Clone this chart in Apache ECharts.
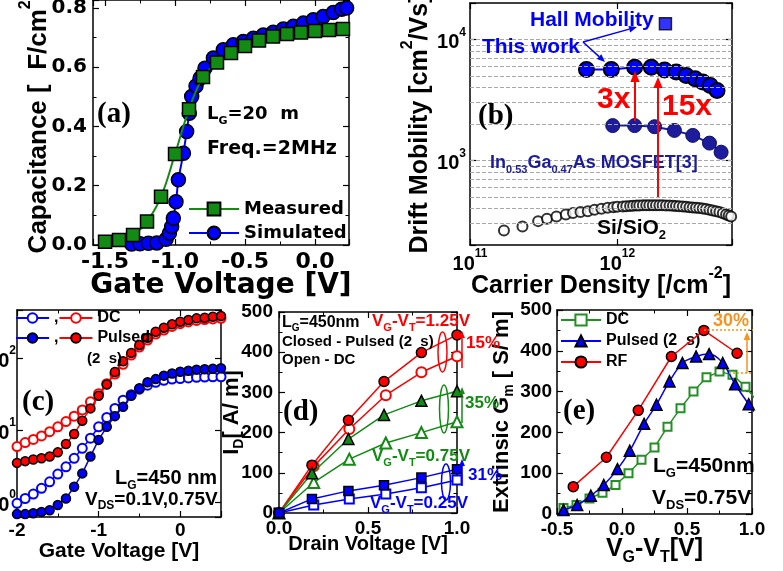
<!DOCTYPE html>
<html>
<head>
<meta charset="utf-8">
<title>InGaAs channel: C-V, mobility, I-V and Gm</title>
<script src="https://cdn.jsdelivr.net/npm/echarts@6/dist/echarts.min.js"></script>
<style>
  html, body { margin: 0; padding: 0; background: #fff; }
  #chart { width: 783px; height: 571px; }
</style>
</head>
<body>
<div id="chart"></div>
<script>
// ---------- (a) C-V ----------
var cvMeasV = [-1.5, -1.4, -1.3, -1.2, -1.1, -1.0, -0.9, -0.8, -0.7, -0.6, -0.5, -0.4, -0.3, -0.2, -0.1, 0.0, 0.1, 0.2];
var cvMeasured = [0.011, 0.017, 0.034, 0.079, 0.163, 0.307, 0.458, 0.567, 0.616, 0.648, 0.672, 0.69, 0.704, 0.712, 0.717, 0.722, 0.726, 0.729];
var cvSimV = [-1.31, -1.25, -1.19, -1.13, -1.064, -1.04, -1.024, -1.012, -0.993, -0.976, -0.94, -0.917, -0.898, -0.881, -0.85, -0.821, -0.786, -0.726, -0.655, -0.583, -0.512, -0.44, -0.369, -0.298, -0.226, -0.155, -0.083, -0.012, 0.059, 0.131, 0.19, 0.226];
var cvSimulated = [0.003, 0.004, 0.006, 0.007, 0.019, 0.04, 0.062, 0.09, 0.146, 0.22, 0.31, 0.383, 0.445, 0.501, 0.537, 0.563, 0.597, 0.631, 0.659, 0.676, 0.687, 0.698, 0.709, 0.718, 0.729, 0.738, 0.749, 0.76, 0.771, 0.785, 0.796, 0.8];

// ---------- (b) mobility ----------
var hallDensity = [2.12e12];
var hallMobility = [13500];
var thisWorkDensity = [6.17e11, 9.1e11, 1.31e12, 1.70e12, 2.09e12, 2.51e12, 2.93e12, 3.37e12, 3.8e12, 4.27e12, 4.75e12];
var thisWorkMobility = [5650, 5650, 5900, 5900, 5600, 5370, 5040, 4730, 4440, 4170, 3790];
var ingaasDensity = [9.3e11, 1.31e12, 1.79e12, 2.44e12, 3.25e12, 4.22e12, 5.06e12];
var ingaasMobility = [1940, 1940, 1900, 1770, 1610, 1390, 1170];
var siDensity = [1.7e11, 2.27e11, 2.9e11, 3.33e11, 3.86e11, 4.47e11, 5.0e11, 5.62e11, 6.3e11, 7.0e11, 7.8e11, 8.6e11, 9.4e11, 1.0e12, 1.09e12, 1.15e12, 1.22e12, 1.28e12, 1.35e12, 1.41e12, 1.49e12, 1.57e12, 1.65e12, 1.74e12, 1.83e12, 1.93e12, 2.03e12, 2.14e12, 2.26e12, 2.38e12, 2.5e12, 2.63e12, 2.78e12, 2.93e12, 3.09e12, 3.25e12, 3.42e12, 3.6e12, 3.8e12, 4.0e12, 4.22e12, 4.44e12, 4.68e12, 4.93e12, 5.2e12, 5.47e12, 5.7e12, 5.92e12];
var siMobility = [264, 285, 315, 329, 344, 358, 367, 374, 381, 391, 398, 406, 411, 414, 417, 419, 421, 422, 424, 425, 426, 427, 427, 427, 427, 427, 426, 425, 424, 422, 420, 419, 416, 414, 411, 409, 406, 404, 400, 396, 391, 386, 380, 374, 366, 358, 351, 344];
var mobilityGridLines = [300, 400, 500, 600, 700, 800, 900, 1000, 2000, 3000, 4000, 5000, 6000, 7000, 8000, 9000, 10000];

// ---------- (c) Id-Vg ----------
var idGateV = [-2.0, -1.9, -1.8, -1.7, -1.6, -1.5, -1.4, -1.3, -1.2, -1.1, -1.0, -0.9, -0.8, -0.7, -0.6, -0.5, -0.4, -0.3, -0.2, -0.1, 0.0, 0.1, 0.2, 0.3, 0.4, 0.5];
var idDcHigh = [5.9, 6.7, 7.4, 8.3, 9.5, 11.1, 13.1, 15.6, 19, 24.7, 32, 44, 60, 82, 110, 142, 178, 215, 245, 275, 300, 318, 333, 342, 350, 356];
var idPulsedHigh = [3.5, 3.7, 3.9, 4.05, 4.3, 4.9, 6.4, 8.8, 13.5, 20, 30, 43, 64, 90, 118, 152, 191, 232, 264, 294, 320, 337, 356, 363, 375, 383];
var idDcLow = [0.96, 1.12, 1.29, 1.55, 1.91, 2.45, 3.09, 4.05, 5.57, 7.7, 11.1, 15, 20, 26, 31, 37, 42, 46, 49, 51, 52, 53, 54, 54.5, 55, 55];
var idPulsedLow = [0.68, 0.68, 0.70, 0.73, 0.77, 0.91, 1.12, 1.63, 2.5, 4.3, 7.3, 11.1, 15.6, 21, 30, 38, 46, 51, 57, 61, 64.5, 66.5, 69, 70, 71, 72];

// ---------- (d) Id-Vd ----------
var drainVFilled = [0, 0.185, 0.39, 0.59, 0.8, 1.0];
var drainVOpen = [0, 0.195, 0.395, 0.6, 0.8, 1.0];
var idHighPulsed = [0, 119, 231, 327, 399, 443];
var idHighDc = [0, 116, 209, 293, 350, 390];
var idMidPulsed = [0, 99, 184, 244, 279, 303];
var idMidDc = [0, 76, 134, 174, 200, 227];
var idLowPulsed = [0, 35, 55, 69, 88, 109];
var idLowDc = [0, 20, 35, 47, 63, 82];

// ---------- (e) Gm ----------
var gmDcV = [-0.45, -0.35, -0.25, -0.15, -0.05, 0.05, 0.15, 0.25, 0.35, 0.45, 0.55, 0.65, 0.75, 0.85, 0.95, 1.05];
var gmDc = [15, 22, 38, 52, 71, 100, 133, 163, 214, 259, 300, 335, 349, 341, 312, 272];
var gmPulsedV = [-0.45, -0.345, -0.24, -0.14, -0.035, 0.06, 0.17, 0.265, 0.365, 0.465, 0.57, 0.67, 0.775, 0.87, 0.975, 1.075];
var gmPulsed = [10, 22, 45, 71, 110, 155, 221, 268, 325, 370, 386, 392, 370, 318, 269, 228];
var gmRfV = [-0.375, -0.12, 0.125, 0.38, 0.63, 0.885];
var gmRf = [67, 139, 254, 386, 450, 394];

var SANS = 'Liberation Sans';
var WIDE = 'DejaVu Sans';
var SERIF = 'Liberation Serif';
var RED = '#ff0000', BLUE = '#0000ff', GREEN = '#138a13', NAVY = '#1c1c9c', ORANGE = '#f7931e';

function pairs(xs, ys) {
  return xs.map(function (x, i) { return [x, ys[i]]; });
}

function tok(size, family, color, lh, va) {
  return { fontSize: size, lineHeight: lh, verticalAlign: va, fontFamily: family, fontWeight: 'bold', color: color, fill: color };
}
function supRich(size, family, color) {
  color = color || '#000';
  return {
    b: tok(size, family, color, Math.round(size * 1.3), 'bottom'),
    sup: tok(Math.round(size * 0.62), family, color, Math.round(size * 0.62), 'top')
  };
}
function subRich(size, family, color) {
  color = color || '#000';
  return {
    b: tok(size, family, color, Math.round(size * 1.15), 'top'),
    sub: tok(Math.round(size * 0.62), family, color, Math.round(size * 0.62), 'bottom')
  };
}

function powLabel(v) {
  var e = Math.log10(v);
  if (Math.abs(e - Math.round(e)) > 1e-6) return '';
  return '{b|10}{sup|' + Math.round(e) + '}';
}

// main axis + a mirrored one (ticks only) so every panel is boxed
function axisPair(kind, gridIndex, o) {
  var sides = kind === 'x' ? ['bottom', 'top'] : ['left', 'right'];
  return sides.map(function (pos, k) {
    var isMain = k === 0;
    return {
      type: o.type || 'value',
      gridIndex: gridIndex,
      position: pos,
      min: o.min, max: o.max, interval: o.interval, splitNumber: o.splitNumber,
      logBase: 10,
      name: isMain ? o.name : '',
      nameLocation: 'middle',
      nameGap: o.nameGap,
      nameMoveOverlap: false,
      nameTextStyle: o.nameStyle,
      axisLine: { show: true, onZero: false, lineStyle: { color: '#000', width: 1.5 } },
      axisTick: { show: true, inside: true, length: 6, lineStyle: { color: '#000', width: 1.2 } },
      minorTick: { show: !!o.minor, splitNumber: o.minor || 2, length: 3.5, lineStyle: { color: '#000', width: 1 } },
      splitLine: { show: false },
      axisLabel: isMain ? o.label : { show: false }
    };
  });
}

function tickLabel(size, family, margin, extra) {
  var l = { show: true, margin: margin, fontSize: size, fontFamily: family, fontWeight: 'bold', color: '#000' };
  for (var k in extra) l[k] = extra[k];
  return l;
}
function fixed1(v) { return v.toFixed(1); }

function txt(x, y, text, size, color, family, rich) {
  return {
    type: 'text', x: x, y: y, z: 100,
    style: {
      text: text, fill: color || '#000', fontSize: size, fontWeight: 'bold', fontFamily: family || SANS,
      align: 'left', verticalAlign: 'middle', textAlign: 'left', textVerticalAlign: 'middle',
      rich: rich
    }
  };
}
function arrow(x1, y1, x2, y2, color, width, head) {
  var a = Math.atan2(y2 - y1, x2 - x1), hw = head * 0.42;
  var bx = x2 - head * Math.cos(a), by = y2 - head * Math.sin(a);
  var nx = -Math.sin(a), ny = Math.cos(a);
  return [
    { type: 'line', z: 100, shape: { x1: x1, y1: y1, x2: bx, y2: by }, style: { stroke: color, lineWidth: width } },
    { type: 'polygon', z: 100, shape: { points: [[x2, y2], [bx + nx * hw, by + ny * hw], [bx - nx * hw, by - ny * hw]] }, style: { fill: color } }
  ];
}
function ellipse(cx, cy, rx, ry, color) {
  return { type: 'ellipse', z: 100, shape: { cx: cx, cy: cy, rx: rx, ry: ry }, style: { fill: 'none', stroke: color, lineWidth: 1.5 } };
}

var xAxes = [].concat(
  axisPair('x', 0, { min: -1.586, max: 0.243, splitNumber: 4, minor: 2, name: 'Gate Voltage [V]', nameGap: 27,
    nameStyle: { fontSize: 28, fontFamily: WIDE, fontWeight: 'bold', color: '#000' },
    label: tickLabel(22, WIDE, 6, { formatter: fixed1, showMinLabel: false, showMaxLabel: false }) }),
  axisPair('x', 1, { type: 'log', min: 1e11, max: 6e12, name: '{b|Carrier Density [/cm}{sup|-2}{b|]}', nameGap: 21,
    nameStyle: { rich: supRich(25, SANS) },
    label: tickLabel(20, SANS, 3, { formatter: powLabel, rich: supRich(20, SANS) }) }),
  axisPair('x', 2, { min: -2, max: 0.5, interval: 1, minor: 2, name: 'Gate Voltage [V]', nameGap: 24,
    nameStyle: { fontSize: 21, fontFamily: SANS, fontWeight: 'bold', color: '#000' },
    label: tickLabel(19, SANS, 4, { showMaxLabel: false }) }),
  axisPair('x', 3, { min: 0, max: 1, interval: 0.5, minor: 2, name: 'Drain Voltage [V]', nameGap: 21,
    nameStyle: { fontSize: 20, fontFamily: SANS, fontWeight: 'bold', color: '#000' },
    label: tickLabel(19, SANS, 6, { formatter: fixed1 }) }),
  axisPair('x', 4, { min: -0.5, max: 1.0, interval: 0.5, minor: 2, name: '{b|V}{sub|G}{b|-V}{sub|T}{b|[V]}', nameGap: 23,
    nameStyle: { rich: subRich(25, SANS) },
    label: tickLabel(19, SANS, 6, { formatter: fixed1 }) })
);

var yAxes = [].concat(
  axisPair('y', 0, { min: 0, max: 0.827, interval: 0.2, minor: 2, name: '{b|Capacitance [  F/cm}{sup|2}{b|]}', nameGap: 41,
    nameStyle: { rich: supRich(26, SANS) },
    label: tickLabel(20, WIDE, 6, { formatter: fixed1, showMaxLabel: false }) }),
  axisPair('y', 1, { type: 'log', min: 200, max: 20000, name: '{b|Drift Mobility [cm}{sup|2}{b|/Vs]}', nameGap: 37,
    nameStyle: { rich: supRich(25, SANS) },
    label: tickLabel(20, SANS, 4, { formatter: powLabel, rich: supRich(20, SANS) }) }),
  axisPair('y', 2, { type: 'log', min: 0.62, max: 465, name: '',
    label: tickLabel(20, SANS, 1, { formatter: powLabel, rich: supRich(20, SANS) }) }),
  axisPair('y', 3, { min: 0, max: 500, interval: 100, minor: 2, name: '{b|I}{sub|D}{b|[ A/ m]}', nameGap: 33,
    nameStyle: { rich: subRich(22, SANS) },
    label: tickLabel(19, SANS, 6, {}) }),
  axisPair('y', 4, { min: 0, max: 500, interval: 100, minor: 2, name: '{b|Extrinsic G}{sub|m}{b| [ S/ m]}', nameGap: 41,
    nameStyle: { rich: subRich(22, SANS) },
    label: tickLabel(19, SANS, 5, {}) })
);

function lineSeries(name, g, data, o) {
  var filled = o.symbol.indexOf('empty') !== 0;
  var item = { color: o.color, borderWidth: o.borderWidth || 1.5 };
  if (filled) item.borderColor = o.border || '#000';
  return {
    name: name, type: o.type || 'line', xAxisIndex: 2 * g, yAxisIndex: 2 * g,
    data: data, symbol: o.symbol, symbolSize: o.size, showSymbol: true,
    smooth: o.smooth || false, z: o.z || 2, clip: true,
    lineStyle: { color: o.color, width: o.width || 1.5 },
    itemStyle: item,
    markLine: o.markLine
  };
}

var series = [
  // (a)
  lineSeries('Simulated', 0, pairs(cvSimV, cvSimulated), { symbol: 'circle', size: 14, color: BLUE, width: 2, smooth: 0.3 }),
  lineSeries('Measured', 0, pairs(cvMeasV, cvMeasured), { symbol: 'rect', size: 13, color: GREEN, width: 2, smooth: 0.4, z: 3 }),
  // (b)
  lineSeries('Si/SiO2', 1, pairs(siDensity, siMobility), { type: 'scatter', symbol: 'emptyCircle', size: 10, color: '#000', z: 1,
    markLine: {
      silent: true, symbol: 'none', animation: false, label: { show: false },
      lineStyle: { color: '#a8a8a8', width: 1, type: [4, 2] },
      data: mobilityGridLines.map(function (v) { return { yAxis: v }; })
    } }),
  lineSeries('InGaAs MOSFET', 1, pairs(ingaasDensity, ingaasMobility), { symbol: 'circle', size: 14, color: NAVY, border: '#101060', borderWidth: 1, width: 2 }),
  lineSeries('This work', 1, pairs(thisWorkDensity, thisWorkMobility), { symbol: 'circle', size: 15, color: BLUE, borderWidth: 2, width: 2, z: 3 }),
  lineSeries('Hall Mobility', 1, pairs(hallDensity, hallMobility), { type: 'scatter', symbol: 'rect', size: 12, color: BLUE }),
  // (c)
  lineSeries('c-dc-high', 2, pairs(idGateV, idDcHigh), { symbol: 'emptyCircle', size: 9, color: RED }),
  lineSeries('c-dc-low', 2, pairs(idGateV, idDcLow), { symbol: 'emptyCircle', size: 9, color: BLUE }),
  lineSeries('c-pulsed-high', 2, pairs(idGateV, idPulsedHigh), { symbol: 'circle', size: 9, color: RED, z: 3 }),
  lineSeries('c-pulsed-low', 2, pairs(idGateV, idPulsedLow), { symbol: 'circle', size: 9, color: BLUE, z: 3 }),
  // (d)
  lineSeries('d-high-dc', 3, pairs(drainVOpen, idHighDc), { symbol: 'emptyCircle', size: 10, color: RED }),
  lineSeries('d-high-pulsed', 3, pairs(drainVFilled, idHighPulsed), { symbol: 'circle', size: 10, color: RED, z: 3 }),
  lineSeries('d-mid-dc', 3, pairs(drainVOpen, idMidDc), { symbol: 'emptyTriangle', size: 11, color: GREEN }),
  lineSeries('d-mid-pulsed', 3, pairs(drainVFilled, idMidPulsed), { symbol: 'triangle', size: 11, color: GREEN, z: 3 }),
  lineSeries('d-low-dc', 3, pairs(drainVOpen, idLowDc), { symbol: 'emptyRect', size: 9, color: BLUE }),
  lineSeries('d-low-pulsed', 3, pairs(drainVFilled, idLowPulsed), { symbol: 'rect', size: 9, color: BLUE, z: 3 }),
  // (e)
  lineSeries('DC', 4, pairs(gmDcV, gmDc), { symbol: 'emptyRect', size: 8, color: '#239023' }),
  lineSeries('Pulsed (2  s)', 4, pairs(gmPulsedV, gmPulsed), { symbol: 'triangle', size: 11, color: BLUE, smooth: 0.3, z: 3 }),
  lineSeries('RF', 4, pairs(gmRfV, gmRf), { symbol: 'circle', size: 10, color: RED, z: 4 })
];

function legend(left, top, names, o) {
  return {
    show: true, left: left, top: top, orient: o.orient || 'vertical', padding: 0,
    itemWidth: o.itemWidth, itemHeight: o.itemHeight, itemGap: o.itemGap,
    data: names, selectedMode: false, formatter: o.formatter,
    textStyle: { fontSize: o.fontSize, fontFamily: o.family || SANS, fontWeight: 'bold', color: '#000', lineHeight: o.fontSize + 2 }
  };
}
var cLegendText = { 'c-dc-low': ',', 'c-dc-high': 'DC', 'c-pulsed-low': ',', 'c-pulsed-high': 'Pulsed' };
function cLabel(n) { return cLegendText[n]; }

var legends = [
  legend(188, 199, ['Measured', 'Simulated'], { itemWidth: 50, itemHeight: 16, itemGap: 4, fontSize: 18, family: WIDE }),
  legend(15, 309, ['c-dc-low', 'c-dc-high'], { orient: 'horizontal', itemWidth: 33, itemHeight: 12, itemGap: 0, fontSize: 16, formatter: cLabel }),
  legend(15, 329, ['c-pulsed-low', 'c-pulsed-high'], { orient: 'horizontal', itemWidth: 33, itemHeight: 12, itemGap: 0, fontSize: 16, formatter: cLabel }),
  legend(560, 311, ['DC', 'Pulsed (2  s)', 'RF'], { itemWidth: 40, itemHeight: 14, itemGap: 3, fontSize: 16 })
];

var vgvt = function (v) { return '{b|V}{sub|G}{b|-V}{sub|T}{b|=' + v + '}'; };

var notes = [
  // (a)
  txt(97, 115, '(a)', 29, '#000', SERIF),
  txt(207, 116, '{b|L}{sub|G}{b|=20  m}', 18, '#000', WIDE, subRich(18, WIDE)),
  txt(207, 149, 'Freq.=2MHz', 19, '#000', WIDE),
  // (b)
  txt(478, 117, '(b)', 29, '#000', SERIF),
  txt(530, 20, 'Hall Mobility', 21, BLUE),
  txt(482, 47, 'This work', 21, BLUE),
  txt(597, 100, '3x', 30, RED),
  txt(662, 107, '15x', 30, RED),
  txt(490, 165, '{b|In}{sub|0.53}{b|Ga}{sub|0.47}{b|As MOSFET[3]}', 18, NAVY, SANS, subRich(18, SANS, NAVY)),
  txt(597, 230, '{b|Si/SiO}{sub|2}', 21, '#000', SANS, subRich(21, SANS)),
  // (c)
  txt(22, 403, '(c)', 29, '#000', SERIF),
  txt(87, 359, '(2  s)', 15),
  txt(115, 480, '{b|L}{sub|G}{b|=450 nm}', 20, '#000', SANS, subRich(20, SANS)),
  txt(85, 501, '{b|V}{sub|DS}{b|=0.1V,0.75V}', 19, '#000', SANS, subRich(19, SANS)),
  // (d)
  txt(283, 413, '(d)', 29, '#000', SERIF),
  txt(282, 324, '{b|L}{sub|G}{b|=450nm}', 16, '#000', SANS, subRich(16, SANS)),
  txt(282, 342, 'Closed - Pulsed (2  s)', 15),
  txt(282, 360, 'Open - DC', 15),
  txt(372, 323, vgvt('1.25V'), 17, RED, SANS, subRich(17, SANS, RED)),
  txt(372, 458, vgvt('0.75V'), 17, GREEN, SANS, subRich(17, SANS, GREEN)),
  txt(370, 505, vgvt('0.25V'), 17, BLUE, SANS, subRich(17, SANS, BLUE)),
  txt(466, 343, '15%', 17, RED),
  txt(465, 403, '35%', 17, GREEN),
  txt(468, 475, '31%', 17, BLUE),
  ellipse(442.5, 352, 4.5, 20, RED),
  ellipse(444, 409, 4.5, 24, GREEN),
  ellipse(446, 482, 4.5, 18, BLUE),
  // (e)
  txt(563, 412, '(e)', 29, '#000', SERIF),
  txt(653, 468, '{b|L}{sub|G}{b|=450nm}', 21, '#000', SANS, subRich(21, SANS)),
  txt(652, 500, '{b|V}{sub|DS}{b|=0.75V}', 21, '#000', SANS, subRich(21, SANS)),
  txt(713, 321, '30%', 18, ORANGE),
  { type: 'line', z: 100, shape: { x1: 704, y1: 330, x2: 753, y2: 330 }, style: { stroke: ORANGE, lineWidth: 1.5, lineDash: [2, 2] } },
  { type: 'line', z: 100, shape: { x1: 729, y1: 373, x2: 753, y2: 373 }, style: { stroke: ORANGE, lineWidth: 1.5, lineDash: [2, 2] } }
].concat(
  arrow(583, 42, 637, 27, BLUE, 1.5, 8),
  arrow(583, 42, 605, 62, BLUE, 1.5, 8),
  arrow(635, 121, 635, 71, RED, 2, 11),
  arrow(658, 197, 658, 77, RED, 2, 11),
  arrow(462, 368, 462, 331, RED, 1.5, 7),
  arrow(462, 423, 462, 387, GREEN, 1.5, 7),
  arrow(462, 486, 462, 459, BLUE, 1.5, 7),
  arrow(747, 373, 747, 332, ORANGE, 1.5, 8)
);

var chart = echarts.init(document.getElementById('chart'), null, { renderer: 'canvas' });
chart.setOption({
  animation: false,
  backgroundColor: '#fff',
  textStyle: { fontFamily: SANS, fontWeight: 'bold' },
  grid: [
    { left: 93, top: 0, width: 256, height: 245, outerBoundsMode: 'none' },
    { left: 470, top: 3, width: 262, height: 242, outerBoundsMode: 'none' },
    { left: 17, top: 310, width: 204, height: 207, outerBoundsMode: 'none' },
    { left: 279, top: 312, width: 178, height: 201, outerBoundsMode: 'none' },
    { left: 557, top: 310, width: 195, height: 204, outerBoundsMode: 'none' }
  ],
  xAxis: xAxes,
  yAxis: yAxes,
  legend: legends,
  series: series,
  graphic: { elements: notes }
});

window.addEventListener('resize', function () {
  chart.resize();
});
</script>
</body>
</html>
